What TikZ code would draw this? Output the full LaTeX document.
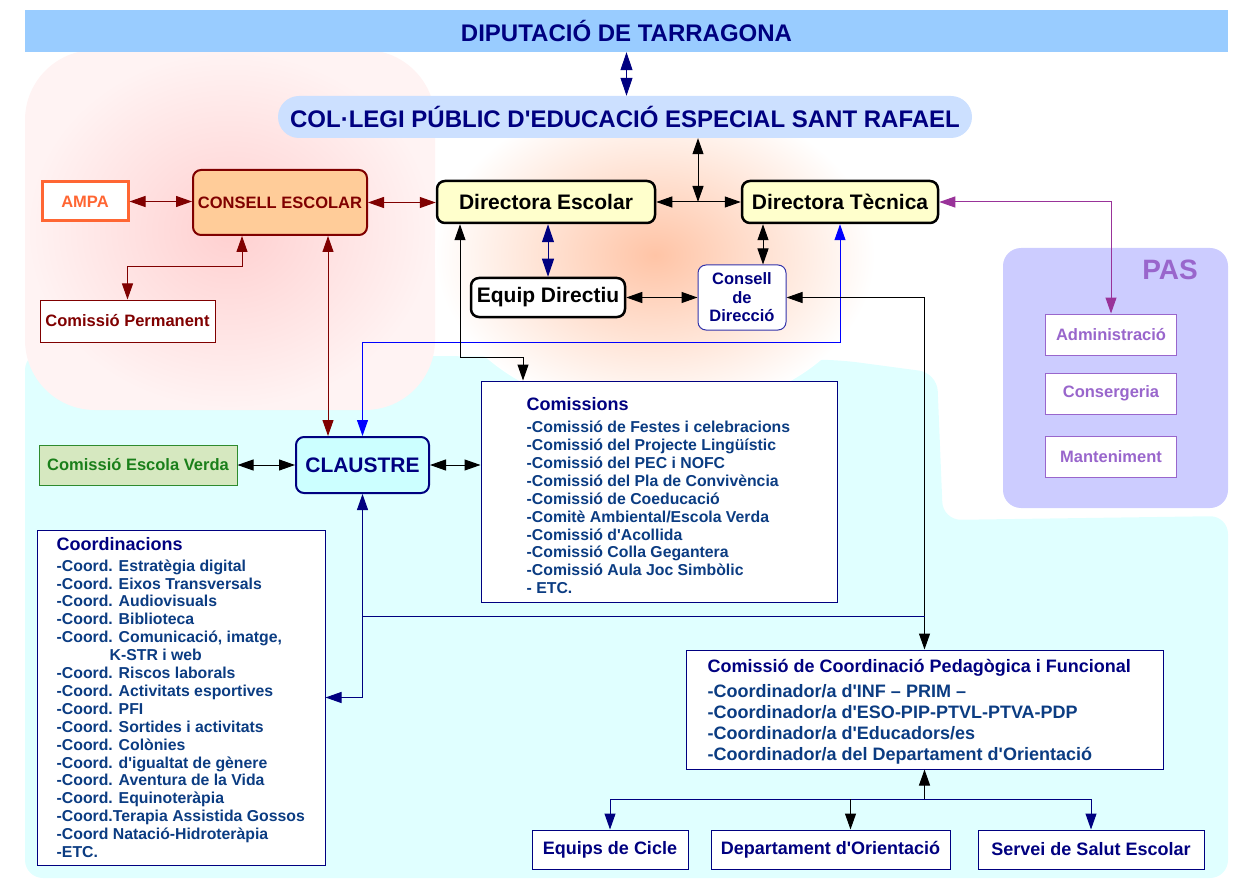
\documentclass[tikz,border=0pt]{standalone}
\usepackage{fontspec}
\newfontfamily\lsans{Liberation Sans}
\usepackage{tikz}
\usetikzlibrary{shapes,arrows.meta,positioning,calc}
\newcommand{\fsz}[2]{\fontsize{#1}{#2}\selectfont}

\definecolor{bannerblue}{HTML}{99CCFF}
\definecolor{colblue}{HTML}{CCE0FF}
\definecolor{navyblue}{HTML}{000080}
\definecolor{itemblue}{HTML}{0B3C82}
\definecolor{darkred}{HTML}{800000}
\definecolor{peach}{HTML}{FFCC99}
\definecolor{ampaorange}{HTML}{FF6633}
\definecolor{paleyellow}{HTML}{FFFFCC}
\definecolor{palecyan}{HTML}{CCFFFF}
\definecolor{bgcyan}{HTML}{E0FFFF}
\definecolor{verdafill}{HTML}{D6E8C0}
\definecolor{verdaline}{HTML}{2E8B2E}
\definecolor{verdatext}{HTML}{1A7F1A}
\definecolor{pasbg}{HTML}{CCCCFF}
\definecolor{pastext}{HTML}{9966CC}
\definecolor{pasarrow}{HTML}{993399}
\definecolor{pinkblob}{HTML}{FFD0D0}
\definecolor{orangeblob}{HTML}{FFC4A6}
\definecolor{cdirline}{HTML}{3333AA}

\begin{document}
\begin{tikzpicture}[x=1pt, y=-1pt, >={Triangle[length=16pt,width=11pt]}]
    \tikzstyle{banner} = [rectangle, fill=bannerblue, text=navyblue, font=\lsans\bfseries\fsz{24}{28}, minimum width=1203, minimum height=42, inner sep=0]
    \tikzstyle{school} = [rectangle, rounded corners=21, fill=colblue, text=navyblue, font=\lsans\bfseries\fsz{24}{28}, minimum width=694, minimum height=42, inner sep=0]
    \tikzstyle{director} = [rectangle, rounded corners=8, draw=black, line width=2.5, fill=paleyellow, font=\lsans\bfseries\fsz{21}{24}, minimum height=42, inner sep=0]
    \tikzstyle{council} = [rectangle, rounded corners=8, draw=darkred, line width=2, fill=peach, text=darkred, font=\lsans\bfseries\fsz{16.5}{19}, minimum width=174, minimum height=65, inner sep=0]
    \tikzstyle{simplebox} = [rectangle, draw, fill=white, line width=1, inner sep=0, font=\lsans\bfseries\fsz{16.5}{18.5}]
    \tikzstyle{pasbox} = [rectangle, draw=pastext, fill=white, text=pastext, line width=1, minimum width=131, minimum height=41, inner sep=0, font=\lsans\bfseries\fsz{16.5}{18}]
    \tikzstyle{listbox} = [rectangle, draw=navyblue, fill=white, line width=1, inner sep=0]
    \tikzstyle{listtext} = [align=left, inner sep=0, text=itemblue, font=\lsans\bfseries\fsz{15.8}{17.9}]
    \tikzstyle{arrow} = [draw, <->, line width=1]
    \tikzstyle{bigarrow} = [draw, {Triangle[length=18pt,width=12pt]}-{Triangle[length=18pt,width=12pt]}, line width=1]
    \tikzstyle{line} = [draw, line width=1]

    \useasboundingbox (0,0) rectangle (1246,890);

    % Backgrounds
    \fill[bgcyan, rounded corners=18] (25,352) -- (840,360) -- (937,373) -- (943,520) -- (1228,516) -- (1228,878) -- (25,878) -- cycle;
    \shade[rounded corners=70, inner color=pinkblob, outer color=pinkblob!25] (25,50) rectangle (435,410);
    \shade[inner color=orangeblob, outer color=white] (655,255) ellipse [x radius=220pt, y radius=160pt];
    \fill[pasbg, rounded corners=18] (1003,248) rectangle (1228,508);

    % Top
    \node[banner] (diput) at (626.5,31) {DIPUTACIÓ DE TARRAGONA};
    \node[school] (col) at (625,117) {COL·LEGI PÚBLIC D'EDUCACIÓ ESPECIAL SANT RAFAEL};

    % Consell Escolar
    \node[simplebox, draw=ampaorange, line width=3, text=ampaorange, minimum width=86, minimum height=39] (ampa) at (85,201.5) {AMPA};
    \node[council] (consell) at (280,202.5) {CONSELL ESCOLAR};
    \node[simplebox, draw=darkred, text=darkred, minimum width=175, minimum height=42] (perm) at (127.5,321) {Comissió Permanent};

    % Direction
    \node[director, minimum width=218] (desc) at (546,202) {Directora Escolar};
    \node[director, minimum width=196] (dtec) at (840,202) {Directora Tècnica};
    \node[director, fill=white, minimum width=154, minimum height=39] (equip) at (548,297.5) {Equip Directiu};
    \node[simplebox, rounded corners=8, draw=cdirline, text=navyblue, align=center, minimum width=88, minimum height=65] (cdir) at (742,297.5) {Consell\\de\\Direcció};

    % PAS
    \node[font=\lsans\bfseries\fsz{28}{30}, text=pastext, inner sep=0] (pas) at (1170,270) {PAS};
    \node[pasbox] (adm) at (1111,334.5) {Administració};
    \node[pasbox, below=17pt of adm] (cons) {Consergeria};
    \node[pasbox, below=21pt of cons] (mant) {Manteniment};

    % Claustre
    \node[rectangle, rounded corners=8, draw=navyblue, line width=2, fill=palecyan, text=navyblue, font=\lsans\bfseries\fsz{21}{24}, minimum width=133, minimum height=56, inner sep=0] (claustre) at (362.5,465) {CLAUSTRE};
    \node[simplebox, fill=verdafill, draw=verdaline, text=verdatext, minimum width=198, minimum height=40] (verda) at (138,465) {Comissió Escola Verda};

    % Comissions
    \node[listbox, minimum width=356, minimum height=221] (comis) at (659,491.5) {};
    \node[listtext, anchor=north west] (comistxt) at ([xshift=46pt,yshift=-17pt]comis.north west) {{\color{navyblue}\fsz{18}{17.9}Comissions}\\[4pt]
        -Comissió de Festes i celebracions\\
        -Comissió del Projecte Lingüístic\\
        -Comissió del PEC i NOFC\\
        -Comissió del Pla de Convivència\\
        -Comissió de Coeducació\\
        -Comitè Ambiental/Escola Verda\\
        -Comissió d'Acollida\\
        -Comissió Colla Gegantera\\
        -Comissió Aula Joc Simbòlic\\
        - ETC.};

    % Coordinacions
    \node[listbox, minimum width=288, minimum height=335] (coord) at (181,697.5) {};
    \node[listtext, anchor=north west] (coordtxt) at ([xshift=20pt,yshift=-7.5pt]coord.north west) {{\color{navyblue}\fsz{18}{17.9}Coordinacions}\\[3pt]
        -Coord. Estratègia digital\\
        -Coord. Eixos Transversals\\
        -Coord. Audiovisuals\\
        -Coord. Biblioteca\\
        -Coord. Comunicació, imatge,\\
        \hspace*{53pt}K-STR i web\\
        -Coord. Riscos laborals\\
        -Coord. Activitats esportives\\
        -Coord. PFI\\
        -Coord. Sortides i activitats\\
        -Coord. Colònies\\
        -Coord. d'igualtat de gènere\\
        -Coord. Aventura de la Vida\\
        -Coord. Equinoteràpia\\
        -Coord.Terapia Assistida Gossos\\
        -Coord Natació-Hidroteràpia\\
        -ETC.};

    % Comissio de Coordinacio
    \node[listbox, minimum width=477, minimum height=119] (ccpf) at (924.5,709.5) {};
    \node[listtext, font=\lsans\bfseries\fsz{18}{21}, anchor=north west] (ccpftxt) at ([xshift=22pt,yshift=-9.5pt]ccpf.north west) {{\color{navyblue}Comissió de Coordinació Pedagògica i Funcional}\\[4pt]
        -Coordinador/a d'INF – PRIM –\\
        -Coordinador/a d'ESO-PIP-PTVL-PTVA-PDP\\
        -Coordinador/a d'Educadors/es\\
        -Coordinador/a del Departament d'Orientació};

    % Bottom row
    \node[simplebox, draw=navyblue, text=navyblue, font=\lsans\bfseries\fsz{18}{20}, minimum width=156, minimum height=39] (cicle) at (610,849.5) {Equips de Cicle};
    \node[simplebox, draw=navyblue, text=navyblue, font=\lsans\bfseries\fsz{18}{20}, minimum width=239, minimum height=39] (dori) at (830.5,849.5) {Departament d'Orientació};
    \node[simplebox, draw=navyblue, text=navyblue, font=\lsans\bfseries\fsz{18}{20}, minimum width=226, minimum height=39] (salut) at (1091,849.5) {Servei de Salut Escolar};

    % Arrows
    \coordinate (jn) at (698,202);
    \coordinate (cpk) at (242,267);
    \coordinate (jc) at (0,616);
    \coordinate (jt) at (0,799);
    \draw[bigarrow, navyblue] (diput.south) -- (diput.south |- col.north);
    \draw[arrow] (col.south -| jn) -- (jn);
    \draw[arrow] (desc.east) -- (dtec.west);
    \draw[arrow, darkred] (ampa.east) -- (ampa.east -| consell.west);
    \draw[arrow, darkred] (consell.east) -- (consell.east -| desc.west);
    \draw[arrow, darkred] (consell.south -| cpk) -- (cpk) -| (perm.north);
    \draw[arrow, darkred] ([xshift=48pt]consell.south) -- ([xshift=48pt]consell.south |- claustre.north);
    \draw[bigarrow, navyblue] (equip.north) -- (equip.north |- desc.south);
    \draw[arrow] (equip.east) -- (cdir.west);
    \draw[arrow] ([xshift=21pt]cdir.north) -- ([xshift=21pt]cdir.north |- dtec.south);
    \draw[arrow, pasarrow] (dtec.east) -| (adm.north);
    \draw[arrow, blue] (dtec.south) -- ++(0,118) -| (claustre.north);
    \draw[arrow] ([xshift=-86pt]desc.south) -- ++(0,133) -| ([xshift=-136pt]comis.north);
    \draw[arrow] (cdir.east) -| (ccpf.north);
    \draw[arrow] (verda.east) -- (claustre.west);
    \draw[arrow] (claustre.east) -- (comis.west |- claustre.east);
    \draw[arrow, navyblue] (claustre.south) |- (coord.east);
    \draw[line, navyblue] (claustre.south |- jc) -- (ccpf.north |- jc);
    \draw[line, <-] (ccpf.south) -- (ccpf.south |- jt);
    \draw[line, navyblue] (cicle.north |- jt) -- (salut.north |- jt);
    \draw[line, navyblue, ->] (cicle.north |- jt) -- (cicle.north);
    \draw[line, ->] ([xshift=20pt]dori.north |- jt) -- ([xshift=20pt]dori.north);
    \draw[line, navyblue, ->] (salut.north |- jt) -- (salut.north);
\end{tikzpicture}
\end{document}
